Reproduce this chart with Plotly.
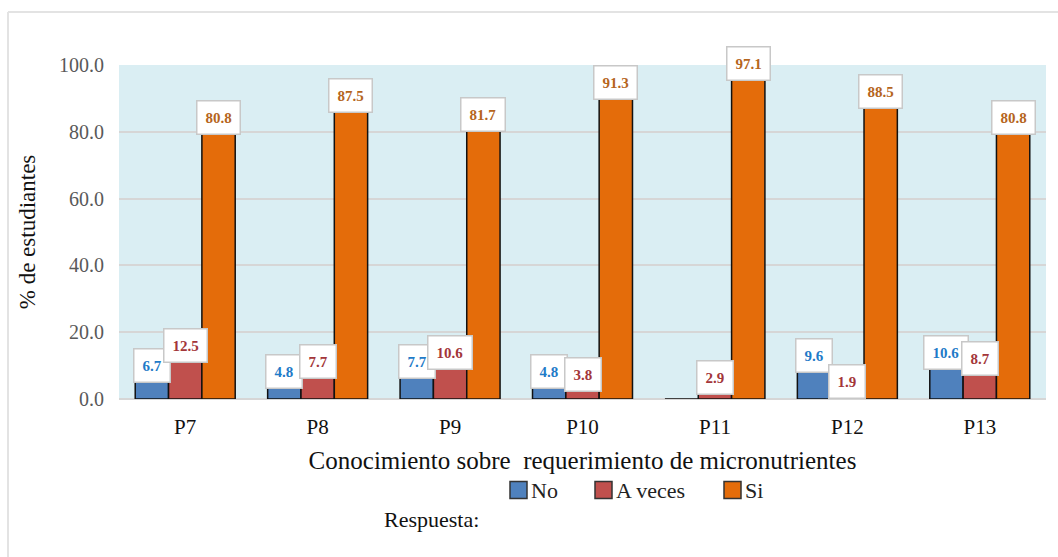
import plotly.graph_objects as go

# Data
preguntas = ["P7", "P8", "P9", "P10", "P11", "P12", "P13"]
no_vals = [6.7, 4.8, 7.7, 4.8, 0.0, 9.6, 10.6]
aveces_vals = [12.5, 7.7, 10.6, 3.8, 2.9, 1.9, 8.7]
si_vals = [80.8, 87.5, 81.7, 91.3, 97.1, 88.5, 80.8]
y_ticks = [0, 20, 40, 60, 80, 100]

series = [
    ("No", no_vals, "#4F81BD", "#1F7BC8"),
    ("A veces", aveces_vals, "#C0504D", "#A3363A"),
    ("Si", si_vals, "#E46C0A", "#B5651D"),
]

W, H = 1058, 557
L, R, T, B = 119, 12, 65, 158
plot_w = W - L - R
plot_h = H - T - B
SERIF = "'Liberation Serif', 'Times New Roman', serif"


def px_x(x):
    return (x - L) / plot_w


def px_y(y):
    return (H - B - y) / plot_h


fig = go.Figure()
for name, vals, color, _ in series:
    fig.add_trace(go.Bar(
        x=preguntas, y=vals, name=name, showlegend=False,
        marker=dict(color=color, line=dict(color="#111111", width=1.5)),
    ))

# Value labels in white boxes on top of each bar
bargap = 0.245
cat_px = plot_w / len(preguntas)
bar_px = cat_px * (1 - bargap) / len(series)
annotations = []
for i, (name, vals, color, txtcolor) in enumerate(series):
    offset = (i - 1) * bar_px
    for cat, v in zip(preguntas, vals):
        if v <= 0:
            continue
        annotations.append(dict(
            x=cat, y=v, xref="x", yref="y", xshift=offset, yshift=-6,
            yanchor="bottom", text=f"<b>{v:.1f}</b>", showarrow=False,
            font=dict(family=SERIF, size=15, color=txtcolor),
            bgcolor="white", bordercolor="#C8C8C8", borderwidth=1.5, borderpad=8,
        ))

# Legend row (square swatch + label) below the axis title
legend_y = 490
legend_x = [510, 595, 724]
shapes = []
for (name, _, color, _), x0 in zip(series, legend_x):
    shapes.append(dict(
        type="rect", xref="paper", yref="paper",
        x0=px_x(x0), x1=px_x(x0 + 17), y0=px_y(legend_y + 8.5), y1=px_y(legend_y - 8.5),
        fillcolor=color, line=dict(color="#333333", width=1.5),
    ))
    annotations.append(dict(
        x=px_x(x0 + 19), y=px_y(legend_y), xref="paper", yref="paper",
        xanchor="left", yanchor="middle", text=name, showarrow=False,
        font=dict(family=SERIF, size=22, color="#222222"),
    ))

annotations.append(dict(
    x=px_x(382), y=px_y(519), xref="paper", yref="paper",
    xanchor="left", yanchor="middle", text="Respuesta:", showarrow=False,
    font=dict(family=SERIF, size=22, color="#111111"),
))

# Light frame on the left and top of the chart
shapes += [
    dict(type="line", xref="paper", yref="paper",
         x0=px_x(8), x1=px_x(8), y0=px_y(H), y1=px_y(12),
         line=dict(color="#E3E3E3", width=2)),
    dict(type="line", xref="paper", yref="paper",
         x0=px_x(8), x1=px_x(W), y0=px_y(12), y1=px_y(12),
         line=dict(color="#E3E3E3", width=2)),
]

fig.update_layout(
    width=W, height=H,
    margin=dict(l=L, r=R, t=T, b=B, autoexpand=False),
    paper_bgcolor="white",
    plot_bgcolor="#DAEEF3",
    barmode="group", bargap=bargap, bargroupgap=0,
    font=dict(family=SERIF, color="#111111"),
    showlegend=False,
    annotations=annotations,
    shapes=shapes,
)
fig.update_xaxes(
    title=dict(text="Conocimiento sobre  requerimiento de micronutrientes",
               font=dict(family=SERIF, size=25, color="#111111"), standoff=13),
    tickfont=dict(family=SERIF, size=21, color="#111111"),
    showgrid=False, showline=False, ticks="outside", ticklen=9, tickcolor="rgba(0,0,0,0)",
)
fig.update_yaxes(
    range=[0, 100], tickvals=y_ticks, tickformat=".1f",
    title=dict(text="% de estudiantes",
               font=dict(family=SERIF, size=23, color="#111111"), standoff=16),
    tickfont=dict(family=SERIF, size=20, color="#595959"),
    showgrid=True, gridcolor="#D6D6D6", gridwidth=1.5,
    zeroline=True, zerolinecolor="#D6D6D6", zerolinewidth=1.5,
    ticks="outside", ticklen=10, tickcolor="rgba(0,0,0,0)",
)

fig.write_html("out.html")
